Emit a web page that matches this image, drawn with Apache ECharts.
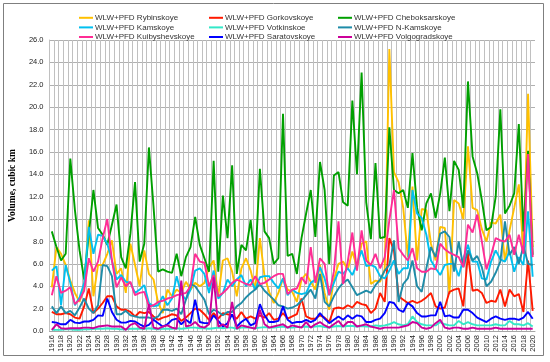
<!DOCTYPE html>
<html><head><meta charset="utf-8">
<script src="https://cdn.jsdelivr.net/npm/echarts@6/dist/echarts.min.js"></script>
<style>html,body{margin:0;padding:0;background:#fff}#c{width:550px;height:362px}</style>
</head><body><div id="c"></div>
<script>
const years = ['1916','1917','1918','1919','1920','1921','1922','1923','1924','1925',
'1926','1927','1928','1929','1930','1931','1932','1933','1934','1935',
'1936','1937','1938','1939','1940','1941','1942','1943','1944','1945',
'1946','1947','1948','1949','1950','1951','1952','1953','1954','1955',
'1956','1957','1958','1959','1960','1961','1962','1963','1964','1965',
'1966','1967','1968','1969','1970','1971','1972','1973','1974','1975',
'1976','1977','1978','1979','1980','1981','1982','1983','1984','1985',
'1986','1987','1988','1989','1990','1991','1992','1993','1994','1995',
'1996','1997','1998','1999','2000','2001','2002','2003','2004','2005',
'2006','2007','2008','2009','2010','2011','2012','2013','2014','2015',
'2016','2017','2018','2019','2020'];

const rybinskoye = [3.9,7.5,6.9,5.9,4.5,3.4,2.6,4.0,9.9,3.1,
5.9,5.9,6.9,8.1,5.1,5.6,3.4,7.8,5.9,4.0,
7.2,5.1,4.6,2.5,1.6,3.7,3.1,3.7,3.4,4.4,
3.7,4.3,4.0,4.3,5.7,6.3,3.1,6.3,6.5,5.3,
3.1,5.6,6.5,5.4,3.7,8.3,4.9,3.5,2.5,3.4,
4.7,3.7,3.5,2.6,4.6,5.1,4.4,3.7,5.9,3.4,
1.9,4.6,6.0,6.2,5.5,7.1,5.7,7.8,8.0,4.2,
4.5,4.4,5.5,25.2,14.2,13.3,11.0,6.6,12.9,6.3,
10.9,10.8,7.8,6.3,9.3,9.2,3.3,11.7,11.4,10.0,
16.5,11.0,10.8,9.1,8.0,9.7,9.6,10.4,6.2,9.0,
11.0,13.1,7.0,21.2,7.5];

const gorkovskoye = [1.7,1.5,1.5,1.6,1.5,1.2,1.1,2.2,3.8,1.6,
2.0,2.5,3.1,3.1,2.2,1.9,1.9,1.7,1.3,1.7,
1.6,1.7,1.3,1.0,1.2,1.3,1.5,1.4,0.9,1.2,
1.6,2.0,1.9,1.5,1.0,1.6,1.1,1.6,1.5,1.4,
1.1,1.7,1.1,1.3,1.1,1.4,1.2,1.6,1.0,1.1,
1.6,1.1,1.3,1.5,2.9,1.3,1.1,1.1,1.4,1.2,
0.8,2.0,2.1,2.0,2.3,2.1,2.6,2.4,2.3,1.6,
2.0,3.4,2.6,8.3,7.2,3.1,2.8,2.5,2.7,2.5,
2.7,3.0,3.4,2.2,2.0,2.1,3.5,3.7,3.8,2.2,
6.9,3.6,3.7,3.4,2.5,2.7,2.6,3.7,2.2,3.7,
3.1,3.3,1.7,6.3,1.8];

const cheboksarskoye = [8.9,7.5,6.3,6.9,15.4,10.8,7.2,4.6,8.6,12.6,
9.2,8.6,7.7,9.5,11.3,6.6,5.6,8.7,13.3,6.2,
7.8,16.4,11.1,5.3,5.5,5.3,5.2,6.9,4.9,6.6,
7.5,10.2,7.7,6.5,5.3,15.2,5.3,12.1,8.3,14.8,
5.1,7.7,7.2,9.9,6.0,14.5,8.9,8.3,6.0,6.5,
19.4,6.7,6.9,5.1,8.3,10.5,12.6,8.4,15.1,12.6,
6.0,13.9,14.2,11.5,11.2,20.6,14.0,23.1,11.5,8.2,
15.0,8.3,8.4,18.2,12.6,12.3,12.6,11.0,15.9,11.0,
9.0,11.4,12.3,10.1,12.3,15.5,10.7,15.2,14.4,11.0,
22.3,15.6,14.1,11.7,9.0,9.3,12.0,19.8,10.5,11.2,
12.3,18.5,8.9,16.1,6.8];

const kamskoye = [5.4,5.8,2.3,5.9,4.3,2.3,3.0,4.3,9.3,6.9,
8.6,8.5,7.8,6.3,4.6,5.0,4.4,4.3,3.4,3.7,
4.1,2.5,2.2,2.3,3.1,2.3,2.9,4.9,3.3,2.8,
3.7,5.4,5.6,5.1,3.4,5.4,2.9,3.4,4.6,4.0,
4.6,5.0,4.0,4.6,3.7,4.8,4.9,4.9,4.3,3.8,
4.7,3.2,3.7,3.4,3.3,3.4,4.3,4.6,5.7,4.7,
3.2,4.3,5.3,5.1,5.6,5.0,6.0,7.2,5.8,5.9,
5.7,4.9,4.7,5.4,6.3,5.1,5.6,5.6,12.6,10.5,
10.1,8.6,6.3,5.6,5.0,5.9,6.0,6.0,4.9,6.5,
7.7,6.2,6.2,4.7,4.6,6.2,7.2,6.4,6.2,7.1,
5.3,6.6,5.9,10.7,4.85];

const votkinskoe = [0.1,0.1,0.1,0.15,0.15,0.1,0.1,0.15,0.15,0.2,
0.2,0.2,0.25,0.2,0.2,0.15,0.15,0.2,0.2,0.2,
0.2,0.25,0.2,0.15,0.2,0.2,0.2,0.25,0.2,0.25,
0.3,0.3,0.25,0.25,0.2,0.25,0.3,0.25,0.3,0.3,
0.2,0.3,0.3,0.3,0.25,0.3,0.35,0.3,0.3,0.35,
0.4,0.3,0.3,0.35,0.35,0.4,0.35,0.4,0.45,0.35,
0.3,0.4,0.45,0.4,0.45,0.45,0.4,0.45,0.4,0.4,
0.5,0.45,0.5,0.6,0.8,0.6,0.5,0.6,1.3,0.8,
0.6,0.5,0.5,0.5,0.8,0.6,0.5,0.5,0.9,0.6,
0.8,0.6,0.5,0.5,0.5,0.5,0.6,0.5,0.5,0.9,
0.6,0.6,0.5,0.7,0.4];

const nKamskoye = [2.2,1.6,2.2,1.6,1.8,1.4,2.1,2.9,2.0,1.6,
2.3,5.9,5.8,4.9,1.5,1.5,1.8,1.4,1.3,1.2,
1.2,1.2,1.1,1.3,1.9,1.9,1.8,2.0,1.5,2.8,
4.2,4.0,3.4,2.8,1.5,1.9,1.7,1.4,1.7,1.7,
2.2,2.5,3.0,3.4,3.7,4.2,3.6,3.2,2.8,2.3,
2.2,2.0,2.1,2.3,2.7,3.2,3.7,2.9,5.1,2.6,
2.2,3.1,3.8,4.3,4.6,3.9,3.2,3.4,3.6,3.4,
4.1,4.6,5.4,5.9,8.1,2.6,4.2,4.7,6.3,4.0,
3.5,5.6,7.5,6.6,8.7,8.9,8.4,5.3,8.0,5.7,
7.2,6.3,6.7,5.7,4.0,4.4,5.2,6.2,9.8,6.8,
7.5,6.0,7.6,6.0,5.9];

const kuibyshevskoye = [3.2,4.9,3.4,3.6,3.9,2.4,2.8,3.6,6.5,5.3,
6.2,8.3,10.0,6.3,3.9,4.8,4.0,4.4,3.2,3.4,
3.5,2.2,2.3,2.6,2.7,2.9,3.0,3.2,3.3,3.4,
4.0,6.9,6.2,6.1,4.0,5.0,3.1,3.4,3.8,4.3,
4.6,4.4,4.2,4.1,4.9,4.2,4.3,4.6,4.9,5.1,
5.1,3.3,3.7,3.8,4.8,4.2,7.5,4.3,6.5,6.0,
3.2,5.3,9.8,4.2,6.2,8.8,5.4,9.0,6.3,5.9,
6.9,5.6,6.6,9.9,12.6,7.4,6.8,6.3,7.4,5.6,
5.3,5.3,5.6,5.5,7.8,7.3,7.0,6.8,6.6,5.7,
9.5,8.8,10.4,8.0,5.5,6.8,8.3,8.1,8.0,8.6,
6.8,8.6,6.9,15.8,6.6];

const saratovskoye = [0.8,0.75,0.6,0.6,1.0,0.75,0.7,0.85,0.85,1.0,
1.4,1.35,2.9,1.7,1.0,0.75,0.75,0.9,0.85,0.6,
0.4,0.55,1.0,0.7,0.4,0.6,1.0,1.1,0.6,1.0,
0.7,2.8,0.8,0.7,0.7,1.4,0.9,0.4,0.7,1.5,
0.4,0.8,1.1,0.5,0.7,2.4,1.4,0.8,0.8,0.9,
2.2,1.0,0.7,0.8,0.8,1.0,0.8,1.0,1.6,1.1,
0.7,1.0,1.3,1.0,1.4,1.1,1.4,1.3,0.8,0.8,
1.0,1.1,1.6,2.6,2.5,1.9,1.7,2.5,2.2,1.6,
1.3,1.3,1.4,1.4,2.6,1.3,1.4,1.2,1.2,1.9,
1.9,1.6,1.2,1.0,0.8,1.1,1.3,1.1,1.0,1.1,
1.1,1.0,1.2,1.7,1.1];

const volgogradskoye = [0.1,0.6,0.25,0.2,0.25,0.25,0.25,0.3,0.3,0.25,
0.4,0.45,0.5,0.4,0.4,0.4,0.1,0.55,0.7,0.3,
0.2,2.4,0.3,0.2,0.4,0.5,0.3,0.2,4.5,0.4,
0.5,0.8,0.4,0.3,0.6,4.8,0.4,0.6,0.3,2.6,
0.2,0.5,0.4,0.3,0.2,1.9,0.6,0.3,0.4,0.5,
0.6,0.3,0.5,0.4,0.3,0.8,0.3,0.6,0.8,0.5,
0.3,0.6,0.9,0.4,0.8,0.8,0.4,0.5,0.6,0.4,
0.3,0.2,0.3,0.3,0.3,0.3,0.4,0.5,0.8,0.7,
0.3,0.2,0.3,0.7,1.0,0.3,0.2,0.3,0.3,0.2,
0.2,0.3,0.2,0.2,0.2,0.2,0.3,0.2,0.2,0.2,
0.2,0.2,0.2,0.2,0.2];

const seriesNames = ['WLW+PFD Rybinskoye','WLW+PFD Gorkovskoye','WLW+PFD Cheboksarskoye',
'WLW+PFD Kamskoye','WLW+PFD Votkinskoe','WLW+PFD N-Kamskoye',
'WLW+PFD Kuibyshevskoye','WLW+PFD Saratovskoye','WLW+PFD Volgogradskoye'];
const seriesData = [rybinskoye,gorkovskoye,cheboksarskoye,kamskoye,votkinskoe,nKamskoye,kuibyshevskoye,saratovskoye,volgogradskoye];
const colors = ['#FFC000','#FF1A00','#00A000','#00C0F0','#33E8C8','#1E8CA8','#FF2C95','#0000FF','#CC0099'];

const chart = echarts.init(document.getElementById('c'), null, {renderer:'canvas'});
const legendCommon = {
  orient:'vertical', top:8, itemWidth:14, itemHeight:2, icon:'rect', itemGap:0,
  selectedMode:false,
  textStyle:{fontSize:8, color:'#333', fontFamily:'"Liberation Sans Narrow","Liberation Sans",sans-serif', lineHeight:9.6, padding:[0,0,0,-3]}
};
chart.setOption({
  animation:false,
  color: colors,
  graphic:[{type:'rect', shape:{x:3.5,y:3.5,width:540,height:352}, style:{fill:'none', stroke:'#7F7F7F', lineWidth:1}, z:100}],
  legend:[
    Object.assign({left:74, data:[seriesNames[0],seriesNames[3],seriesNames[6]]}, legendCommon),
    Object.assign({left:204, data:[seriesNames[1],seriesNames[4],seriesNames[7]]}, legendCommon),
    Object.assign({left:333, data:[seriesNames[2],seriesNames[5],seriesNames[8]]}, legendCommon)
  ],
  grid:{left:46, right:15, top:40, bottom:31, containLabel:false},
  xAxis:{
    type:'category', data:years, boundaryGap:true,
    axisLine:{show:true, lineStyle:{color:'#A6A6A6', width:1}},
    axisTick:{show:false},
    axisLabel:{interval:1, rotate:90, fontSize:7.5, color:'#222', margin:4, fontFamily:'"Liberation Sans",sans-serif'},
    splitLine:{show:true, interval:0, lineStyle:{color:'#C0C0C0', width:1}}
  },
  yAxis:{
    type:'value', min:0, max:26, interval:2,
    name:'Volume, cubic km', nameLocation:'middle', nameGap:29,
    nameTextStyle:{fontFamily:'"Liberation Serif","Times New Roman",serif', fontWeight:'bold', fontSize:9.5, color:'#000'},
    axisLine:{show:true, lineStyle:{color:'#C0C0C0'}},
    axisTick:{show:false},
    axisLabel:{fontSize:7.5, color:'#222', margin:6, formatter:v=>v.toFixed(1), fontFamily:'"Liberation Sans",sans-serif'},
    splitLine:{show:true, lineStyle:{color:'#B0B0B0', width:1}}
  },
  series: seriesNames.map((n,i)=>({
    name:n, type:'line', data:seriesData[i], showSymbol:false, symbol:'none',
    lineStyle:{width:1.9, color:colors[i]}, itemStyle:{color:colors[i]}, z:2+i
  }))
});
</script></body></html>
